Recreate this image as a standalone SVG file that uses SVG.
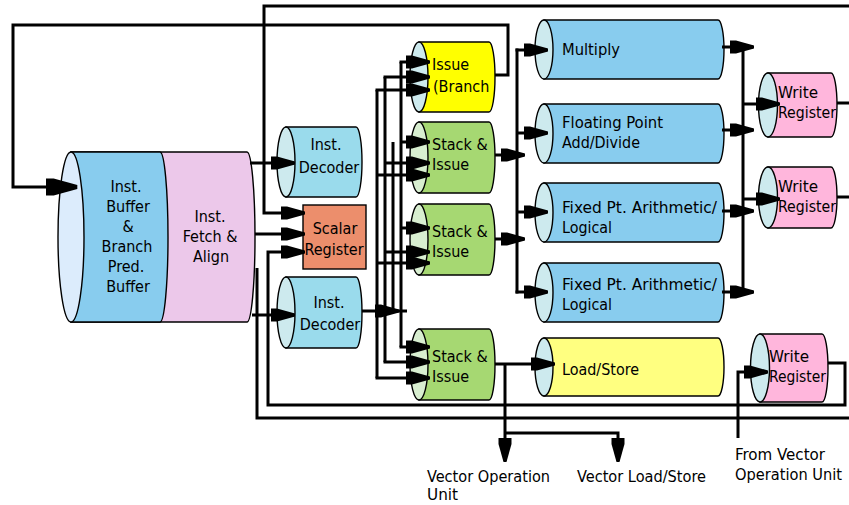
<svg xmlns="http://www.w3.org/2000/svg" width="849" height="505" viewBox="0 0 849 505">
<defs>
<style>
.w{fill:none;stroke:#000;stroke-width:3}
.o{stroke:#000;stroke-width:1.4}
.t{font-family:"DejaVu Sans Condensed","DejaVu Sans",sans-serif;font-stretch:condensed;font-size:16px;fill:#000}
.m{text-anchor:middle}
.face{fill:#cdeaee;stroke:#000;stroke-width:1.4}
.blue{fill:#88ccee}
.dec{fill:#9adbec}
.grn{fill:#a6d872}
.gface{fill:#d8eed0;stroke:#000;stroke-width:1.4}
.wr{fill:#ffb6dc}
</style>
<marker id="ah" viewBox="0 0 24 16" refX="23" refY="8" markerWidth="24" markerHeight="16" markerUnits="userSpaceOnUse" orient="auto">
<path d="M0,1.5 H6 L24,6.5 V9.5 L6,14.5 H0 Z" fill="#000"/>
</marker>
<marker id="ahb" viewBox="0 0 24 16" refX="23" refY="8" markerWidth="32" markerHeight="21" markerUnits="userSpaceOnUse" orient="auto">
<path d="M0,1.5 H6 L24,6.5 V9.5 L6,14.5 H0 Z" fill="#000"/>
</marker>
</defs>
<rect width="849" height="505" fill="#fff"/>

<!-- instruction buffer / fetch -->
<g id="fetch">
<path d="M71,152 H247 A8,85 0 0 1 247,322 H71 Z" fill="#ecc8ea" class="o"/>
<path d="M71,152 H160 A8,85 0 0 1 160,322 H71 Z" fill="#88ccee" class="o"/>
<ellipse cx="71" cy="237" rx="13" ry="85" fill="#dcecfc" class="o"/>
<text class="t m" x="126" y="192">Inst.</text>
<text class="t m" x="128" y="212">Buffer</text>
<text class="t m" x="128" y="232">&amp;</text>
<text class="t m" x="127" y="252">Branch</text>
<text class="t m" x="126" y="272">Pred.</text>
<text class="t m" x="128" y="292">Buffer</text>
<text class="t m" x="210" y="222">Inst.</text>
<text class="t m" x="210" y="242">Fetch &amp;</text>
<text class="t m" x="211" y="262">Align</text>
</g>

<g id="decoder1">
<path d="M286,127 H356 A6,35 0 0 1 356,197 H286 Z" class="dec o"/>
<ellipse cx="286" cy="162" rx="9" ry="35" class="face"/>
<text class="t m" x="326" y="150">Inst.</text>
<text class="t m" x="329" y="173">Decoder</text>
</g>

<g id="decoder2">
<path d="M286,277 H356 A6,35.5 0 0 1 356,348 H286 Z" class="dec o"/>
<ellipse cx="286" cy="312.5" rx="9" ry="35.5" class="face"/>
<text class="t m" x="329" y="308">Inst.</text>
<text class="t m" x="330" y="330">Decoder</text>
</g>

<g id="scalar">
<rect x="303" y="205" width="63" height="64" fill="#ec8e6c" class="o"/>
<text class="t m" x="335" y="234">Scalar</text>
<text class="t m" x="334" y="255">Register</text>
</g>

<g id="issue-branch">
<path d="M419,42 H489 A6,35 0 0 1 489,112 H419 Z" fill="#ffff00" class="o"/>
<ellipse cx="419" cy="77" rx="9" ry="35" class="face"/>
<text class="t" x="432" y="70">Issue</text>
<text class="t" x="433" y="92">(Branch</text>
</g>

<g id="stack1">
<path d="M419,122 H489 A6,35.5 0 0 1 489,193 H419 Z" class="grn o"/>
<ellipse cx="419" cy="157.5" rx="9" ry="35.5" class="gface"/>
<text class="t" x="432" y="150">Stack &amp;</text>
<text class="t" x="432" y="170">Issue</text>
</g>

<g id="stack2">
<path d="M419,204 H489 A6,35.5 0 0 1 489,275 H419 Z" class="grn o"/>
<ellipse cx="419" cy="239.5" rx="9" ry="35.5" class="gface"/>
<text class="t" x="432" y="237">Stack &amp;</text>
<text class="t" x="432" y="257">Issue</text>
</g>

<g id="stack3">
<path d="M419,329 H489 A6,35.5 0 0 1 489,400 H419 Z" class="grn o"/>
<ellipse cx="419" cy="364.5" rx="9" ry="35.5" class="gface"/>
<text class="t" x="432" y="362">Stack &amp;</text>
<text class="t" x="432" y="382">Issue</text>
</g>

<g id="multiply">
<path d="M544,20 H718 A6,29.5 0 0 1 718,79 H544 Z" class="blue o"/>
<ellipse cx="544" cy="49.5" rx="9" ry="29.5" class="face"/>
<text class="t" x="562" y="55" textLength="58" lengthAdjust="spacingAndGlyphs">Multiply</text>
</g>

<g id="fp-add">
<path d="M544,104 H718 A6,29.5 0 0 1 718,163 H544 Z" class="blue o"/>
<ellipse cx="544" cy="133.5" rx="9" ry="29.5" class="face"/>
<text class="t" x="562" y="128" textLength="101" lengthAdjust="spacingAndGlyphs">Floating Point</text>
<text class="t" x="562" y="148" textLength="78" lengthAdjust="spacingAndGlyphs">Add/Divide</text>
</g>

<g id="fixed1">
<path d="M544,183 H718 A6,29.5 0 0 1 718,242 H544 Z" class="blue o"/>
<ellipse cx="544" cy="212.5" rx="9" ry="29.5" class="face"/>
<text class="t" x="562" y="213" textLength="155" lengthAdjust="spacingAndGlyphs">Fixed Pt. Arithmetic/</text>
<text class="t" x="562" y="233" textLength="50" lengthAdjust="spacingAndGlyphs">Logical</text>
</g>

<g id="fixed2">
<path d="M544,263 H718 A6,29.5 0 0 1 718,322 H544 Z" class="blue o"/>
<ellipse cx="544" cy="292.5" rx="9" ry="29.5" class="face"/>
<text class="t" x="562" y="290" textLength="155" lengthAdjust="spacingAndGlyphs">Fixed Pt. Arithmetic/</text>
<text class="t" x="562" y="310" textLength="50" lengthAdjust="spacingAndGlyphs">Logical</text>
</g>

<g id="load-store">
<path d="M544,338 H718 A6,29 0 0 1 718,396 H544 Z" fill="#ffff80" class="o"/>
<ellipse cx="544" cy="367" rx="9" ry="29" class="face"/>
<text class="t" x="562" y="375" textLength="77" lengthAdjust="spacingAndGlyphs">Load/Store</text>
</g>

<g id="write1">
<path d="M768,73 H831 A6,32 0 0 1 831,137 H768 Z" class="wr o"/>
<ellipse cx="768" cy="105" rx="9.5" ry="32" class="face"/>
<text class="t" x="778" y="98" textLength="40" lengthAdjust="spacingAndGlyphs">Write</text>
<text class="t" x="778" y="118" textLength="58" lengthAdjust="spacingAndGlyphs">Register</text>
</g>

<g id="write2">
<path d="M768,167 H831 A6,30.5 0 0 1 831,228 H768 Z" class="wr o"/>
<ellipse cx="768" cy="197.5" rx="9.5" ry="30.5" class="face"/>
<text class="t" x="778" y="192" textLength="40" lengthAdjust="spacingAndGlyphs">Write</text>
<text class="t" x="778" y="212" textLength="58" lengthAdjust="spacingAndGlyphs">Register</text>
</g>

<g id="write3">
<path d="M760,334 H822 A6,34 0 0 1 822,402 H760 Z" class="wr o"/>
<ellipse cx="760" cy="368" rx="9.5" ry="34" class="face"/>
<text class="t" x="769" y="362" textLength="40" lengthAdjust="spacingAndGlyphs">Write</text>
<text class="t" x="769" y="382" textLength="57" lengthAdjust="spacingAndGlyphs">Register</text>
</g>

<!-- connectors, drawn over the node faces so the arrowheads show -->
<g id="connectors">
<path class="w" d="M495,75 H508 V25 H13 V187 H76" marker-end="url(#ahb)"/>
<path class="w" d="M849,6 H264 V213 H304" marker-end="url(#ah)"/>
<path class="w" d="M250,163 H294" marker-end="url(#ah)"/>
<path class="w" d="M252,315 H294" marker-end="url(#ah)"/>
<path class="w" d="M255,234 H304" marker-end="url(#ah)"/>
<path class="w" d="M828,363 H845 V405 H268 V252 H304" marker-end="url(#ah)"/>
<path class="w" d="M849,418 H257 V268"/>
<path class="w" d="M738,438 V372 H767" marker-end="url(#ah)"/>
<path class="w" d="M495,364 H554" marker-end="url(#ah)"/>
<path class="w" d="M505,364 V461" marker-end="url(#ah)"/>
<path class="w" d="M505,433 H618 V461" marker-end="url(#ah)"/>
<!-- decoder to issue bus -->
<path class="w" d="M362,311 H398" marker-end="url(#ah)"/>
<path class="w" d="M396,311 H407"/>
<path class="w" d="M401,62 V347"/>
<path class="w" d="M385,77 V362"/>
<path class="w" d="M377,90 V378"/>
<path class="w" d="M393,142 V311"/>
<path class="w" d="M399.5,62 H429" marker-end="url(#ah)"/>
<path class="w" d="M383.5,77 H429" marker-end="url(#ah)"/>
<path class="w" d="M375.5,90 H429" marker-end="url(#ah)"/>
<path class="w" d="M401,142 H429" marker-end="url(#ah)"/>
<path class="w" d="M385,163 H429" marker-end="url(#ah)"/>
<path class="w" d="M377,175 H429" marker-end="url(#ah)"/>
<path class="w" d="M401,228 H429" marker-end="url(#ah)"/>
<path class="w" d="M385,252 H429" marker-end="url(#ah)"/>
<path class="w" d="M377,263 H429" marker-end="url(#ah)"/>
<path class="w" d="M399.5,347 H429" marker-end="url(#ah)"/>
<path class="w" d="M383.5,362 H429" marker-end="url(#ah)"/>
<path class="w" d="M375.5,378 H429" marker-end="url(#ah)"/>
<!-- issue to functional units -->
<path class="w" d="M495,155 H524" marker-end="url(#ah)"/>
<path class="w" d="M495,239 H524" marker-end="url(#ah)"/>
<path class="w" d="M517,48.5 V293.5"/>
<path class="w" d="M515.5,50 H547" marker-end="url(#ah)"/>
<path class="w" d="M517,133 H547" marker-end="url(#ah)"/>
<path class="w" d="M517,212 H547" marker-end="url(#ah)"/>
<path class="w" d="M515.5,292 H547" marker-end="url(#ah)"/>
<!-- functional units to write registers -->
<path class="w" d="M743,45.5 V293.5"/>
<path class="w" d="M722,47 H753" marker-end="url(#ah)"/>
<path class="w" d="M722,130 H753" marker-end="url(#ah)"/>
<path class="w" d="M722,211 H753" marker-end="url(#ah)"/>
<path class="w" d="M722,292 H753" marker-end="url(#ah)"/>
<path class="w" d="M743,104 H779" marker-end="url(#ah)"/>
<path class="w" d="M743,199 H779" marker-end="url(#ah)"/>
<path class="w" d="M837,103 H849"/>
<path class="w" d="M837,197 H849"/>
</g>

<g id="labels">
<text class="t" x="427" y="482" textLength="123" lengthAdjust="spacingAndGlyphs">Vector Operation</text>
<text class="t" x="427" y="500" textLength="31" lengthAdjust="spacingAndGlyphs">Unit</text>
<text class="t" x="577" y="482" textLength="129" lengthAdjust="spacingAndGlyphs">Vector Load/Store</text>
<text class="t" x="735" y="460" textLength="90" lengthAdjust="spacingAndGlyphs">From Vector</text>
<text class="t" x="735" y="480" textLength="107" lengthAdjust="spacingAndGlyphs">Operation Unit</text>
</g>
</svg>
